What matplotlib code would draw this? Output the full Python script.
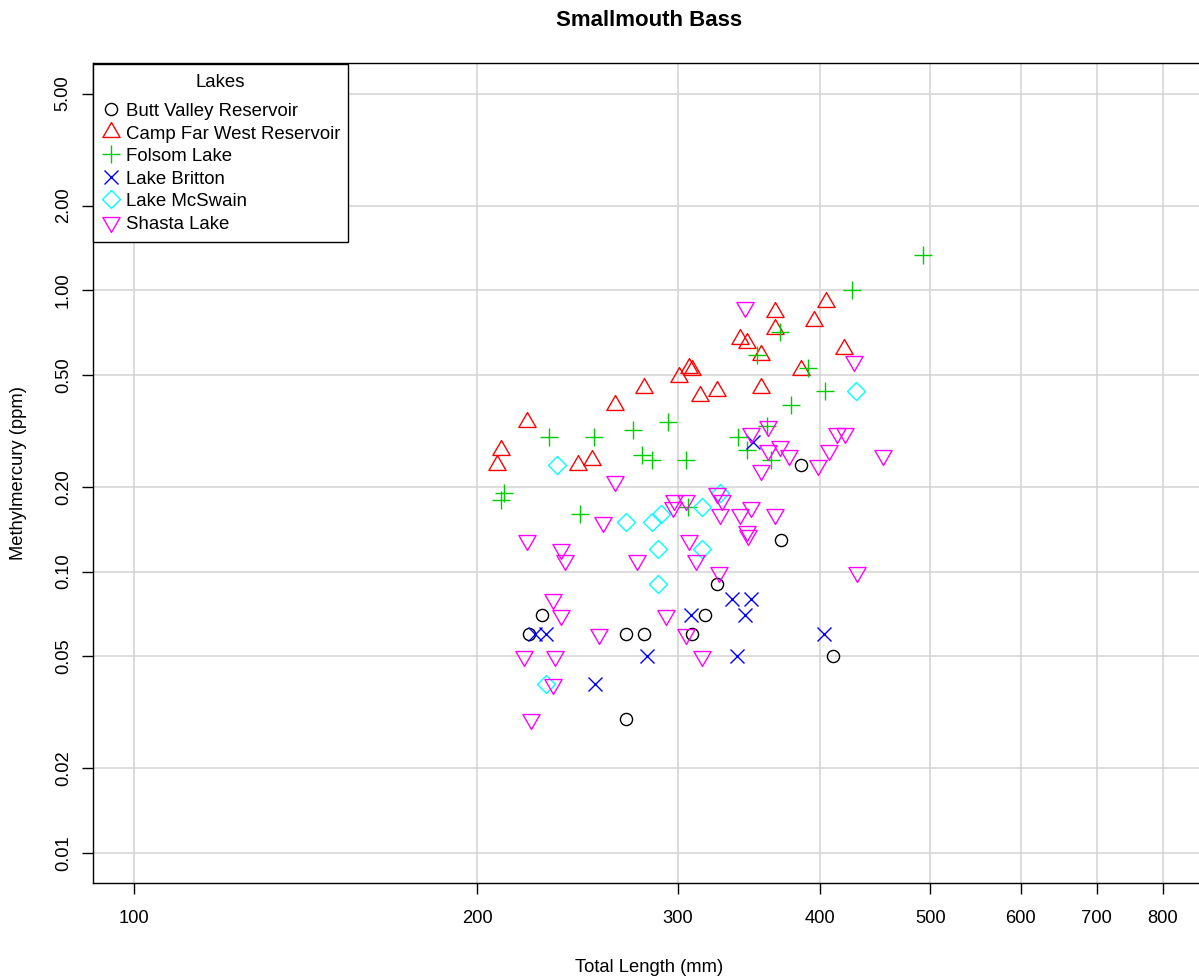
import numpy as np
import matplotlib
matplotlib.use("Agg")
import matplotlib.pyplot as plt
from matplotlib.path import Path
from matplotlib.patches import Rectangle

plt.rcParams["font.family"] = ["Liberation Sans", "DejaVu Sans"]

# ------------------------------- data -------------------------------------- #
lakes = ["Butt Valley Reservoir", "Camp Far West Reservoir", "Folsom Lake",
         "Lake Britton", "Lake McSwain", "Shasta Lake"]

butt_len = [222, 228, 270, 270, 280, 309, 317, 325, 370, 385, 411]
butt_hg = [0.06, 0.07, 0.06, 0.03, 0.06, 0.06, 0.07, 0.09, 0.13, 0.24, 0.05]

camp_len = [208, 210, 221, 245, 252, 264, 280, 301, 307, 309, 314, 325,
            340, 345, 355, 355, 365, 365, 385, 395, 405, 420]
camp_hg = [0.24, 0.27, 0.34, 0.24, 0.25, 0.39, 0.45, 0.49, 0.53, 0.52, 0.42, 0.44,
           0.67, 0.65, 0.59, 0.45, 0.84, 0.73, 0.52, 0.78, 0.91, 0.62]

folsom_len = [211, 210, 231, 246, 253, 274, 279, 285, 294, 305, 306, 339,
              345, 352, 359, 362, 369, 377, 390, 404, 427, 493]
folsom_hg = [0.19, 0.18, 0.30, 0.16, 0.30, 0.32, 0.26, 0.25, 0.34, 0.25, 0.17, 0.30,
             0.27, 0.59, 0.33, 0.25, 0.71, 0.39, 0.53, 0.44, 1.00, 1.33]

britton_len = [225, 230, 254, 282, 308, 335, 348, 344, 338, 403, 349]
britton_hg = [0.06, 0.06, 0.04, 0.05, 0.07, 0.08, 0.08, 0.07, 0.05, 0.06, 0.29]

mcswain_len = [235, 270, 285, 290, 288, 288, 315, 315, 327, 230, 430]
mcswain_hg = [0.24, 0.15, 0.15, 0.16, 0.12, 0.09, 0.17, 0.12, 0.19, 0.04, 0.44]

shasta_len = [223, 220, 221, 233, 233, 234, 237, 237, 239, 256, 258, 264,
              276, 293, 297, 298, 305, 305, 307, 311, 315, 325, 326, 328,
              327, 340, 344, 345, 346, 348, 348, 355, 360, 360, 365, 369,
              376, 398, 407, 414, 421, 428, 431, 454]
shasta_hg = [0.03, 0.05, 0.13, 0.08, 0.04, 0.05, 0.07, 0.12, 0.11, 0.06, 0.15, 0.21,
             0.11, 0.07, 0.17, 0.18, 0.18, 0.06, 0.13, 0.11, 0.05, 0.19, 0.10, 0.18,
             0.16, 0.16, 0.87, 0.14, 0.135, 0.17, 0.31, 0.23, 0.33, 0.27, 0.16, 0.28,
             0.26, 0.24, 0.27, 0.31, 0.31, 0.56, 0.10, 0.26]

x_ticks = [100, 200, 300, 400, 500, 600, 700, 800]
y_ticks = [0.01, 0.02, 0.05, 0.10, 0.20, 0.50, 1.00, 2.00, 5.00]
# --------------------------------------------------------------------------- #

lengths = [butt_len, camp_len, folsom_len, britton_len, mcswain_len, shasta_len]
mercury = [butt_hg, camp_hg, folsom_hg, britton_hg, mcswain_hg, shasta_hg]
colors = ["#000000", "#FF0000", "#00CD00", "#0000FF", "#00FFFF", "#FF00FF"]

# base-R style symbols (pch 1-6), all sized off the same symbol radius
U = 4.6
tri_up = Path([(0, 1.5551), (1.3468, -0.7776), (-1.3468, -0.7776), (0, 1.5551)], closed=True)
tri_dn = Path([(0, -1.5551), (1.3468, 0.7776), (-1.3468, 0.7776), (0, -1.5551)], closed=True)
symbols = [
    dict(marker="o", markersize=1.9 * U),
    dict(marker=tri_up, markersize=2 * 1.5551 * U),
    dict(marker="+", markersize=2 * 1.4142 * U),
    dict(marker="x", markersize=2.1 * U),
    dict(marker="D", markersize=2 * U),
    dict(marker=tri_dn, markersize=2 * 1.5551 * U),
]

W, H = 1199, 980
fig = plt.figure(figsize=(W / 100, H / 100), dpi=100)
ax = fig.add_axes([93.3 / W, 1 - 883.3 / H, (1204 - 93.3) / W, 820 / H])

for lx, hg, col, sym in zip(lengths, mercury, colors, symbols):
    ax.plot(lx, hg, linestyle="none", mec=col, mfc="none", mew=1.0, zorder=3, **sym)

ax.set_xscale("log")
ax.set_yscale("log")

# R pads the axis range by 4% on each side
def padded(lo, hi):
    span = np.log10(hi) - np.log10(lo)
    return 10 ** (np.log10(lo) - 0.04 * span), 10 ** (np.log10(hi) + 0.04 * span)

ax.set_xlim(*padded(x_ticks[0], x_ticks[-1]))
ax.set_ylim(*padded(y_ticks[0], y_ticks[-1]))

ax.set_xticks(x_ticks)
ax.set_xticklabels([str(v) for v in x_ticks])
ax.set_yticks(y_ticks)
ax.set_yticklabels([f"{v:.2f}" for v in y_ticks])
ax.minorticks_off()
ax.tick_params(axis="both", direction="out", length=8, width=1.0, color="black",
               labelsize=13.2, labelcolor="black")
ax.tick_params(axis="x", pad=11.5)
ax.tick_params(axis="y", pad=7.5, labelrotation=90)
for lab in ax.get_yticklabels():
    lab.set_va("center")

ax.grid(True, color="#D3D3D3", linewidth=1.1)
ax.set_axisbelow(True)
for side in ["left", "bottom", "top", "right"]:
    ax.spines[side].set_linewidth(1.0)
    ax.spines[side].set_color("black")

ax.set_title("Smallmouth Bass", fontsize=16, fontweight="bold", pad=26.9)
ax.set_xlabel("Total Length (mm)", fontsize=13.2, va="baseline")
ax.xaxis.set_label_coords(0.5, (883.3 - 971.5) / 820)
ax.set_ylabel("Methylmercury (ppm)", fontsize=13.2, va="baseline")
ax.yaxis.set_label_coords((23.5 - 93.3) / 1110.7, 0.5)

# legend box in the top-left corner, laid out like base R's legend()
def fxy(x, y):
    return x / W, 1 - y / H

x0, y0 = fxy(93.3, 242.3)
x1, y1 = fxy(347.7, 64.3)
ax.add_patch(Rectangle((x0, y0), x1 - x0, y1 - y0, transform=fig.transFigure,
                       facecolor="white", edgecolor="black", linewidth=1.0,
                       zorder=5, clip_on=False))
fig.text(*fxy(220.5, 86.7), "Lakes", fontsize=13.4, ha="center", va="baseline", zorder=6)
for i, (name, col, sym) in enumerate(zip(lakes, colors, symbols)):
    yc = 109.5 + 22.5 * i
    ax.plot(*fxy(110.7, yc), transform=fig.transFigure, linestyle="none", mec=col,
            mfc="none", mew=1.0, clip_on=False, zorder=6, **sym)
    fig.text(*fxy(126.5, yc + 6.8), name, fontsize=13.4, ha="left", va="baseline", zorder=6)

fig.savefig("out.png", dpi=100)
